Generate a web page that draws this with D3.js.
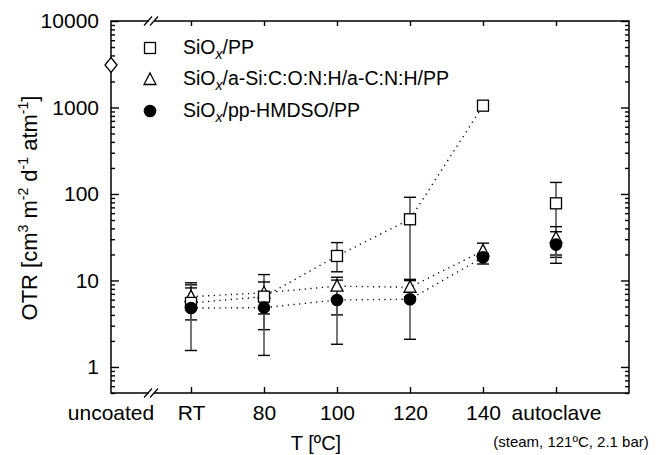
<!DOCTYPE html>
<html>
<head>
<meta charset="utf-8">
<script src="https://cdn.jsdelivr.net/npm/d3@7"></script>
<style>
  body { margin: 0; background: #fff; }
  text { font-family: "Liberation Sans", Arial, sans-serif; fill: #000; }
</style>
</head>
<body>
<script>
// categories along x
const temps = ["RT", "80", "100", "120", "140", "autoclave"];
const yTicks = [1, 10, 100, 1000, 10000];
const uncoatedOTR = 3100;

// SiOx/PP (open square)
const sqVal = [5.5, 6.5, 19.2, 51, 1050, 78];
const sqLo  = [3.5, 2.7, 12.6, 10.0, null, 19.7];
const sqHi  = [8.9, 11.7, 27.4, 91.6, null, 136];
// SiOx/a-Si:C:O:N:H/a-C:N:H/PP (open triangle)
const triVal = [6.5, 7.2, 8.6, 8.35, 22, 31];
const triLo  = [4.5, 4.1, 4.0, 6.5, 19.5, 18.5];
const triHi  = [9.4, 9.6, 10.9, 10.3, 27, 41.9];
// SiOx/pp-HMDSO/PP (filled circle)
const cirVal = [4.8, 4.85, 5.95, 6.07, 18.5, 26];
const cirLo  = [1.55, 1.36, 1.83, 2.09, 15.5, 15.8];
const cirHi  = [8.2, 6.5, 10.1, 10.0, 20.5, 36.6];

const legendLabels = ["/PP", "/a-Si:C:O:N:H/a-C:N:H/PP", "/pp-HMDSO/PP"];

const W = 659, H = 455;
const margin = { top: 21, right: 30, bottom: 62, left: 111 };
const width = W - margin.left - margin.right,
      height = H - margin.top - margin.bottom;

const svg = d3.select("body").append("svg")
    .attr("width", W)
    .attr("height", H);

const g = svg.append("g")
    .attr("transform", `translate(${margin.left},${margin.top})`);

const x = d3.scalePoint()
    .domain(temps)
    .range([80, 445]);

const y = d3.scaleLog()
    .domain([0.5, 10000])
    .range([height, 0]);

const minor = [];
for (let e = -1; e < 4; e++) {
  for (let m = 2; m <= 9; m++) {
    const v = m * Math.pow(10, e);
    if (v >= 0.5 && v < 10000) minor.push(v);
  }
}

// axes
function styleAxis(sel) {
  sel.selectAll("path, line").attr("stroke", "#000").attr("stroke-width", 1.4);
  sel.select(".domain").remove();
}

g.append("g")
    .call(d3.axisLeft(y).tickValues(yTicks).tickSize(-8).tickPadding(12).tickFormat(d3.format("d")))
    .call(styleAxis)
    .selectAll("text").attr("font-size", 21);

g.append("g")
    .call(d3.axisLeft(y).tickValues(minor).tickSize(-4).tickFormat(""))
    .call(styleAxis);

g.append("g")
    .attr("transform", `translate(${width},0)`)
    .call(d3.axisRight(y).tickValues(yTicks).tickSize(-8).tickFormat(""))
    .call(styleAxis);

g.append("g")
    .attr("transform", `translate(${width},0)`)
    .call(d3.axisRight(y).tickValues(minor).tickSize(-4).tickFormat(""))
    .call(styleAxis);

g.append("g")
    .call(d3.axisTop(x).tickSize(-5).tickFormat(""))
    .call(styleAxis);

const xAxis = g.append("g")
    .attr("transform", `translate(0,${height})`)
    .call(d3.axisBottom(x).tickSize(-6).tickPadding(12))
    .call(styleAxis);
xAxis.selectAll("text").attr("font-size", 21);

xAxis.append("text")
    .attr("x", 0)
    .attr("y", 12)
    .attr("dy", "0.71em")
    .attr("text-anchor", "middle")
    .attr("font-size", 21)
    .text("uncoated");

// frame
g.append("rect")
    .attr("width", width)
    .attr("height", height)
    .attr("fill", "none")
    .attr("stroke", "#000")
    .attr("stroke-width", 1.5);

// axis breaks
[0, height].forEach(yy => {
  const b = g.append("g").attr("transform", `translate(40,${yy})`);
  b.append("rect").attr("x", -2).attr("y", -3).attr("width", 5).attr("height", 6).attr("fill", "#fff");
  [-3, 3].forEach(dx => {
    b.append("line")
      .attr("x1", dx - 4).attr("y1", 4.5)
      .attr("x2", dx + 4).attr("y2", -4.5)
      .attr("stroke", "#000").attr("stroke-width", 1.2);
  });
});

const series = [
  { val: sqVal, lo: sqLo, hi: sqHi, shape: "square" },
  { val: triVal, lo: triLo, hi: triHi, shape: "triangle" },
  { val: cirVal, lo: cirLo, hi: cirHi, shape: "circle" }
];

// error bars
series.forEach(s => {
  temps.forEach((t, i) => {
    if (s.lo[i] == null) return;
    const cx = x(t);
    g.append("line")
      .attr("x1", cx).attr("x2", cx)
      .attr("y1", y(s.lo[i])).attr("y2", y(s.hi[i]))
      .attr("stroke", "#555").attr("stroke-width", 1.6);
    [s.lo[i], s.hi[i]].forEach(v => {
      g.append("line")
        .attr("x1", cx - 6).attr("x2", cx + 6)
        .attr("y1", y(v)).attr("y2", y(v))
        .attr("stroke", "#000").attr("stroke-width", 1.4);
    });
  });
});

// dotted connecting lines (RT .. 140)
const line = d3.line()
    .x(d => x(d.t))
    .y(d => y(d.v));

series.forEach(s => {
  const pts = temps.slice(0, 5).map((t, i) => ({ t, v: s.val[i] }));
  g.append("path")
    .attr("d", line(pts))
    .attr("fill", "none")
    .attr("stroke", "#000")
    .attr("stroke-width", 1.4)
    .attr("stroke-dasharray", "1.2,4.5");
});

function marker(sel, shape) {
  if (shape === "square") {
    sel.append("rect").attr("x", -5.5).attr("y", -5.5).attr("width", 11).attr("height", 11)
      .attr("fill", "#fff").attr("stroke", "#000").attr("stroke-width", 1.3);
  } else if (shape === "triangle") {
    sel.append("path").attr("d", "M0,-6.5L6,5L-6,5Z")
      .attr("fill", "#fff").attr("stroke", "#000").attr("stroke-width", 1.3);
  } else {
    sel.append("circle").attr("r", 6.3).attr("fill", "#000");
  }
}

// markers
[1, 0, 2].forEach(k => {
  const s = series[k];
  temps.forEach((t, i) => {
    g.append("g")
      .attr("transform", `translate(${x(t)},${y(s.val[i])})`)
      .call(sel => marker(sel, s.shape));
  });
});

// uncoated point (open diamond on the axis)
g.append("path")
    .attr("transform", `translate(0,${y(uncoatedOTR)})`)
    .attr("d", "M0,-7.5L6,0L0,7.5L-6,0Z")
    .attr("fill", "#fff")
    .attr("stroke", "#000")
    .attr("stroke-width", 1.3);

// legend
const legend = g.append("g")
    .selectAll("g")
    .data(series)
    .enter().append("g")
      .attr("transform", (d, i) => `translate(39,${27 + i * 31.5})`);

legend.each(function (d) { marker(d3.select(this), d.shape); });

const lt = legend.append("text")
    .attr("x", 33)
    .attr("y", 5.5)
    .attr("font-size", 19.5);
lt.append("tspan").text("SiO");
lt.append("tspan").attr("font-style", "italic").attr("font-size", 14).attr("dy", 5).text("x");
lt.append("tspan").attr("dy", -5).text((d, i) => legendLabels[i]);

// axis titles
const yl = svg.append("text")
    .attr("transform", "translate(37,208) rotate(-90)")
    .attr("text-anchor", "middle")
    .attr("font-size", 22);
yl.append("tspan").text("OTR [cm");
yl.append("tspan").attr("font-size", 14).attr("dy", -9).text("3");
yl.append("tspan").attr("dy", 9).text(" m");
yl.append("tspan").attr("font-size", 14).attr("dy", -9).text("-2");
yl.append("tspan").attr("dy", 9).text(" d");
yl.append("tspan").attr("font-size", 14).attr("dy", -9).text("-1");
yl.append("tspan").attr("dy", 9).text(" atm");
yl.append("tspan").attr("font-size", 14).attr("dy", -9).text("-1");
yl.append("tspan").attr("dy", 9).text("]");

svg.append("text")
    .attr("x", 316)
    .attr("y", 450)
    .attr("text-anchor", "middle")
    .attr("font-size", 20)
    .text("T [ºC]");

svg.append("text")
    .attr("x", 571)
    .attr("y", 447)
    .attr("text-anchor", "middle")
    .attr("font-size", 15)
    .text("(steam, 121ºC, 2.1 bar)");
</script>
</body>
</html>
